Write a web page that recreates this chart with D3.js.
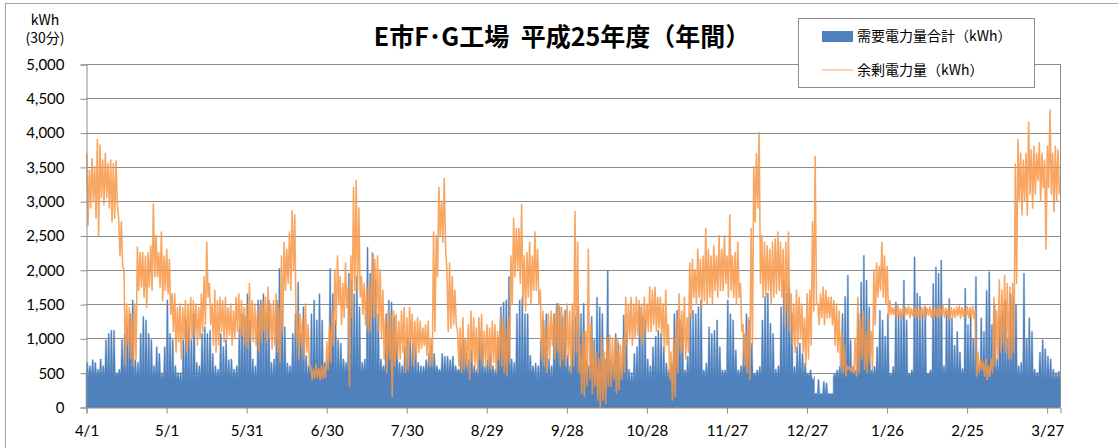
<!DOCTYPE html>
<html>
<head>
<meta charset="utf-8">
<script src="https://cdn.jsdelivr.net/npm/d3@7"></script>
<style>
  html, body { margin: 0; padding: 0; background: #fff; }
  svg { display: block; }
</style>
</head>
<body>
<svg id="chart" width="1118" height="448"></svg>
<script>
// x axis: day index from 4/1 (fiscal year 2013)
const xTickDays = [0, 30, 60, 90, 120, 150, 180, 210, 240, 270, 300, 330, 360];
const xTickLabels = ["4/1", "5/1", "5/31", "6/30", "7/30", "8/29", "9/28", "10/28", "11/27", "12/27", "1/26", "2/25", "3/27"];
const yTicks = [0, 500, 1000, 1500, 2000, 2500, 3000, 3500, 4000, 4500, 5000];

// daily peak of 30-min demand (kWh)
const demandPeak = [
  650,600,690,650,550,700,600,980,1070,1120,
  1120,500,550,980,1070,1170,1360,1560,690,650,
  1070,1320,1270,1070,980,600,880,780,500,880,
  1560,1070,980,600,500,500,980,1270,1170,980,
  1360,650,600,1070,1170,1070,1120,780,600,550,
  1070,880,980,690,700,550,600,1170,1360,1320,
  1650,1270,700,600,1560,1560,1650,1360,1560,650,
  700,1560,2020,1410,1170,640,600,1070,1360,1820,
  1070,1460,750,600,1360,1560,1270,1650,1270,650,
  700,2020,1650,1270,980,930,700,650,1950,1850,
  1650,1900,1460,650,700,2330,1950,2240,1850,1360,
  700,600,1360,1560,1530,1320,980,650,600,880,
  980,980,930,880,650,600,590,690,780,900,
  780,600,550,780,740,740,690,740,600,550,
  880,980,780,690,830,600,550,980,930,590,
  690,780,600,550,980,1460,1530,1560,1900,700,
  650,1360,1560,1600,1360,1360,750,600,640,600,
  980,1270,1360,700,600,1360,1510,1460,1320,1410,
  750,600,1270,1320,1460,1360,1510,700,600,1320,
  980,1600,1460,1360,700,1990,700,650,1070,930,
  590,1340,1070,550,500,780,880,1460,1320,1270,
  700,600,880,1030,1120,1070,880,640,540,640,
  1360,1410,1270,1170,540,740,1360,1410,1360,1460,
  1560,540,640,1170,1070,1120,1270,880,540,540,
  1560,1360,1270,830,540,600,1070,1360,1270,930,
  490,540,590,1270,1610,1660,1220,1070,550,600,
  1460,1850,1660,1750,1360,590,880,930,780,640,
  490,540,400,200,400,200,370,350,200,200,
  490,540,590,1360,1610,1920,980,590,540,1360,
  1820,2210,1850,1460,540,590,880,1410,1270,1030,
  1360,490,590,1530,1360,1360,1850,1270,490,540,
  2190,1660,1610,1360,1460,490,540,1800,2040,1950,
  2140,600,1400,1580,1300,900,1100,800,560,1730,
  1200,1350,1000,1900,600,1300,1100,1700,1970,1200,
  1500,700,1300,1400,1550,1000,1650,1600,1500,600,
  650,1950,1000,1300,1100,550,500,800,980,850,
  740,700,550,500,520
];

// weekly night-time floor of demand (kWh)
const demandBase = [
  450,450,420,430,400,350,420,420,420,400,
  450,450,480,500,500,500,450,450,500,500,
  450,450,450,480,400,450,450,400,380,350,
  400,420,450,420,450,450,430,450,450,180,
  430,450,470,450,460,470,470,440,470,450,
  430,400,400
];

// daily high / low of surplus power (kWh)
const surplusHigh = [
  3700,3450,3620,3500,3900,3820,3600,3700,3550,3600,
  3550,3590,2750,2700,2000,1500,1450,1350,1500,2330,
  2250,2250,2200,2250,2350,2960,2500,2250,2550,2200,
  2300,2150,1650,1650,1450,1500,1450,1550,1500,1600,
  1550,1500,1450,1650,1900,2400,1800,1500,1700,1550,
  1600,1550,1600,1450,1500,1400,1600,1650,1550,1450,
  1500,1800,1550,1500,1400,1500,1550,1600,1750,1500,
  1550,1650,1450,2200,2400,2300,2550,2860,2800,1400,
  1350,1300,1500,1200,600,550,620,560,600,580,
  950,1200,1400,2000,2200,1900,1800,2100,1750,2200,
  3200,3300,2900,1900,1800,1750,1800,2250,2150,2200,
  2000,1700,1300,1400,1350,1400,1350,1250,1400,1450,
  1300,1450,1350,1250,1300,1250,1150,1200,1250,1000,
  2550,2500,3200,3000,3330,2000,2100,1900,1700,1100,
  1150,1300,1000,1200,1400,1300,1150,1300,1350,1100,
  1200,1150,1250,1200,1100,1300,1300,1150,1300,2200,
  2750,2600,2600,2950,2200,2250,2400,2200,2550,2300,
  1700,1400,1200,1350,1400,1350,1450,1500,1450,1350,
  1500,1400,1500,2850,2400,900,1100,1100,2300,1200,
  950,800,700,1000,800,1000,1050,1000,1000,1000,
  900,1000,1600,1500,1600,1500,1600,1550,1500,1600,
  1500,1750,1700,1750,1600,1600,1500,1700,1200,800,
  1000,1300,1650,1400,1600,1300,2100,2150,2000,2300,
  2150,2200,2600,2300,2200,2350,2200,2500,2300,2500,
  2200,2800,2200,2250,2400,1800,1200,1100,1300,2600,
  3500,3700,4000,2500,2400,2350,2300,2400,2450,2550,
  2400,2300,2400,2550,1650,1500,1700,1600,1500,1300,
  1650,1700,2700,3650,1500,1650,1750,1700,1600,1600,
  1550,1500,1400,1100,900,600,580,580,1000,1600,
  1300,1400,1100,1300,1100,2000,2100,2050,2400,2200,
  2050,1550,1450,1450,1480,1430,1460,1450,1470,1440,
  1450,1460,1430,1450,1470,1440,1460,1450,1430,1460,
  1450,1470,1440,1460,1450,1430,1460,1470,1450,1440,
  1460,1450,1470,1400,800,700,650,700,600,700,
  1600,1400,1850,1700,1920,1800,1750,1800,3540,3900,
  3700,3600,3700,4150,3750,3800,3700,3850,3700,3600,
  3800,4330,3700,3800,3750
];
const surplusLow = [
  2650,2900,3000,2750,2500,3050,2950,3050,2900,2700,
  2750,2950,2200,2050,600,900,700,600,700,1700,
  1750,1600,1450,1750,1700,1900,1900,1750,1550,1700,
  1650,1350,1100,800,950,700,1000,800,900,1000,
  1050,900,1000,1100,1200,1600,1200,900,800,900,
  1100,950,1000,1050,900,1000,1100,1000,1050,900,
  850,1000,950,900,800,950,1100,950,1000,850,
  900,800,650,1100,1700,1800,1700,2000,1000,700,
  900,700,800,600,400,420,430,400,420,430,
  550,650,900,1200,1500,1200,1300,1450,300,1300,
  1700,1700,1600,1350,1200,1100,1100,1300,1300,1100,
  1000,700,500,700,150,600,700,700,800,500,
  550,950,600,700,800,850,900,750,600,600,
  1100,1900,2500,2400,2300,1100,1150,1200,1200,600,
  500,550,600,400,650,600,500,700,600,600,
  600,550,650,500,700,600,500,450,650,1500,
  1900,2000,1800,1500,1400,1600,1500,1700,1700,1500,
  700,600,500,700,900,700,800,600,700,600,
  700,500,600,800,500,200,150,300,400,200,
  300,100,0,100,50,300,300,400,200,250,
  400,500,900,1000,900,1000,1050,1000,900,1100,
  1100,1100,1200,1100,1150,1050,800,900,400,100,
  150,500,800,800,700,800,1300,1600,1500,1600,
  1450,1550,1500,1600,1500,1700,1600,1700,1700,1800,
  1600,1700,1600,1500,1600,1100,600,500,400,900,
  2700,2900,1800,1600,1600,1700,1500,1600,1650,1700,
  1600,1200,1400,1100,900,800,900,1000,800,600,
  700,900,1400,1500,1200,1300,1200,1300,1300,1200,
  900,800,600,500,450,550,520,500,450,500,
  700,550,500,650,550,1200,1600,1700,1600,1500,
  1300,1350,1350,1300,1330,1280,1320,1350,1300,1330,
  1300,1320,1280,1330,1300,1340,1310,1290,1320,1300,
  1330,1300,1320,1280,1310,1300,1330,1290,1320,1310,
  1300,1320,1290,450,500,550,450,400,450,500,
  600,700,800,900,800,700,700,800,1800,3000,
  2800,3000,2800,3100,2900,3100,3300,3000,3200,2300,
  3200,3100,2850,3000,3100
];

const blue = "#4F81BD";
const orange = "#F79646";
const gridColor = "#8c8c8c";
const numFont = "Lato, 'Liberation Sans', sans-serif";
const jpFont = "'Noto Sans CJK JP', sans-serif";

const svg = d3.select("#chart");
const x = d3.scaleLinear().domain([0, 365]).range([86, 1060]);
const y = d3.scaleLinear().domain([0, 5000]).range([407, 64]);

// outer chart frame
svg.append("rect")
  .attr("x", 5.5).attr("y", 3.5)
  .attr("width", 1300).attr("height", 600)
  .attr("fill", "none")
  .attr("stroke", "#a6a6a6");

// horizontal gridlines
svg.append("g")
  .selectAll("line").data(yTicks).enter().append("line")
  .attr("x1", 86).attr("x2", 1060)
  .attr("y1", d => Math.round(y(d)) + 0.5)
  .attr("y2", d => Math.round(y(d)) + 0.5)
  .attr("stroke", gridColor)
  .attr("stroke-width", 1);

// demand area: floor at night, peak in the daytime
const demandPoints = [];
demandPeak.forEach((peak, day) => {
  const base = demandBase[Math.floor(day / 7)];
  demandPoints.push([day, base]);
  demandPoints.push([day + 0.3, peak]);
  demandPoints.push([day + 0.7, peak]);
  demandPoints.push([day + 1, base]);
});

svg.append("path")
  .datum(demandPoints)
  .attr("fill", blue)
  .attr("stroke", blue)
  .attr("stroke-width", 0.4)
  .attr("d", d3.area()
    .x(d => x(d[0]))
    .y0(y(0))
    .y1(d => y(d[1])));

// surplus line
const surplusPoints = [];
surplusHigh.forEach((hi, day) => {
  surplusPoints.push([day + 0.25, hi]);
  surplusPoints.push([day + 0.75, surplusLow[day]]);
});

svg.append("path")
  .datum(surplusPoints)
  .attr("fill", "none")
  .attr("stroke", orange)
  .attr("stroke-opacity", 0.85)
  .attr("stroke-width", 1.6)
  .attr("stroke-linejoin", "round")
  .attr("d", d3.line()
    .x(d => x(d[0]))
    .y(d => y(d[1])));

// right border of the plot area
svg.append("line")
  .attr("x1", 1060.5).attr("x2", 1060.5)
  .attr("y1", y(5000)).attr("y2", y(0))
  .attr("stroke", gridColor);

// y axis
const yAxis = svg.append("g")
  .attr("transform", "translate(86.5,0.5)")
  .call(d3.axisLeft(y).tickValues(yTicks).tickFormat(d3.format(",")).tickSize(6).tickPadding(16));
yAxis.select(".domain").attr("stroke", gridColor);
yAxis.selectAll(".tick line").attr("stroke", gridColor);
yAxis.selectAll(".tick text")
  .attr("fill", "#000")
  .style("font-family", numFont)
  .style("font-size", "15px");

// x axis
const xAxis = svg.append("g")
  .attr("transform", "translate(0.5,407.5)")
  .call(d3.axisBottom(x).tickValues(xTickDays).tickFormat((d, i) => xTickLabels[i]).tickSize(6).tickPadding(12));
xAxis.select(".domain").attr("stroke", gridColor);
xAxis.selectAll(".tick line").attr("stroke", gridColor);
xAxis.selectAll(".tick text")
  .attr("fill", "#000")
  .style("font-family", numFont)
  .style("font-size", "15px");

// y axis unit label
svg.append("text")
  .attr("x", 45).attr("y", 25)
  .attr("text-anchor", "middle")
  .style("font-family", jpFont)
  .style("font-size", "14px")
  .text("kWh");
svg.append("text")
  .attr("x", 45).attr("y", 43)
  .attr("text-anchor", "middle")
  .style("font-family", jpFont)
  .style("font-size", "14px")
  .text("(30分)");

// title
svg.append("text")
  .attr("x", 562).attr("y", 46)
  .attr("text-anchor", "middle")
  .style("font-family", jpFont)
  .style("font-weight", "bold")
  .style("font-size", "25px")
  .style("white-space", "pre")
  .text("E市F･G工場  平成25年度（年間）");

// legend
const legend = svg.append("g");
legend.append("rect")
  .attr("x", 798.5).attr("y", 18.5)
  .attr("width", 236).attr("height", 69)
  .attr("fill", "#fff")
  .attr("stroke", "#8c8c8c");
legend.append("rect")
  .attr("x", 822).attr("y", 31)
  .attr("width", 31).attr("height", 11)
  .attr("fill", blue);
legend.append("line")
  .attr("x1", 822).attr("x2", 853)
  .attr("y1", 70).attr("y2", 70)
  .attr("stroke", orange)
  .attr("stroke-opacity", 0.6)
  .attr("stroke-width", 1.5);
legend.append("text")
  .attr("x", 857).attr("y", 41)
  .style("font-family", jpFont)
  .style("font-size", "14px")
  .text("需要電力量合計（kWh）");
legend.append("text")
  .attr("x", 857).attr("y", 75)
  .style("font-family", jpFont)
  .style("font-size", "14px")
  .text("余剰電力量（kWh）");
</script>
</body>
</html>
